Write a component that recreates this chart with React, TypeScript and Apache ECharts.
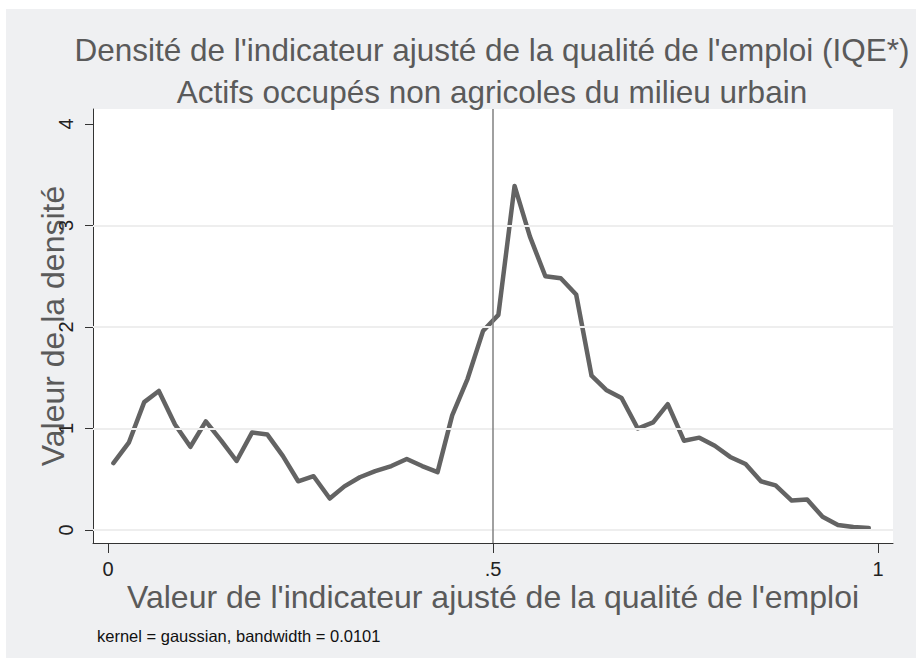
import React, { useEffect, useRef } from "react";
import * as echarts from "echarts";

const titleLines = [
  "Densité de l'indicateur ajusté de la qualité de l'emploi (IQE*)",
  "Actifs occupés non agricoles du milieu urbain",
];
const xTitle = "Valeur de l'indicateur ajusté de la qualité de l'emploi";
const yTitle = "Valeur de la densité";
const note = "kernel = gaussian, bandwidth = 0.0101";

const xTicks = [0, 0.5, 1];
const xTickLabels = ["0", ".5", "1"];
const yTicks = [0, 1, 2, 3, 4];
const yTickLabels = ["0", "1", "2", "3", "4"];
const gridValues = [0, 1, 2, 3];
const refLineX = 0.5;

const xs = [
  0.007, 0.027, 0.047, 0.066, 0.087, 0.107, 0.127, 0.147, 0.167, 0.187,
  0.207, 0.227, 0.247, 0.267, 0.288, 0.307, 0.327, 0.347, 0.368, 0.388,
  0.408, 0.428, 0.447, 0.467, 0.487, 0.507, 0.528, 0.548, 0.568, 0.588,
  0.608, 0.628, 0.647, 0.667, 0.688, 0.708, 0.727, 0.748, 0.768, 0.788,
  0.808, 0.828, 0.848, 0.867, 0.888, 0.908, 0.928, 0.948, 0.968, 0.988,
];
const density = [
  0.66, 0.86, 1.26, 1.37, 1.04, 0.82, 1.07, 0.88, 0.68, 0.96,
  0.94, 0.73, 0.48, 0.53, 0.31, 0.43, 0.52, 0.58, 0.63, 0.7,
  0.63, 0.57, 1.13, 1.49, 1.96, 2.12, 3.39, 2.89, 2.5, 2.48,
  2.32, 1.52, 1.38, 1.3, 1.0, 1.06, 1.24, 0.88, 0.91, 0.83,
  0.72, 0.65, 0.48, 0.44, 0.29, 0.3, 0.13, 0.05, 0.03, 0.02,
];

const FONT = "'Liberation Sans', Arial, Helvetica, sans-serif";

export default function App() {
  const ref = useRef<HTMLDivElement>(null);

  useEffect(() => {
    if (!ref.current) return;
    const chart = echarts.init(ref.current, undefined, { renderer: "svg" });
    const points = xs.map((x, i) => [x, density[i]]);
    chart.setOption({
      animation: false,
      backgroundColor: "transparent",
      textStyle: { fontFamily: FONT },
      title: {
        text: titleLines.join("\n"),
        left: 487,
        top: 24,
        textAlign: "center",
        textStyle: {
          fontFamily: FONT,
          fontSize: 31.5,
          fontWeight: "normal",
          color: "#5a5a5a",
          lineHeight: 42,
        },
      },
      grid: {
        left: 93,
        right: 23,
        top: 109,
        bottom: 118,
        show: true,
        backgroundColor: "#ffffff",
        borderWidth: 0,
      },
      xAxis: {
        type: "value",
        min: -0.0195,
        max: 1.0195,
        name: xTitle,
        nameLocation: "middle",
        nameGap: 38,
        nameMoveOverlap: false,
        nameTextStyle: { fontFamily: FONT, fontSize: 32, color: "#5a5a5a" },
        axisLine: { show: true, onZero: false, lineStyle: { color: "#333", width: 1 } },
        axisTick: {
          show: true,
          customValues: xTicks,
          length: 10,
          lineStyle: { color: "#333", width: 1 },
        },
        axisLabel: {
          customValues: xTicks,
          formatter: (v: number) => xTickLabels[xTicks.indexOf(v)] ?? "",
          fontFamily: FONT,
          fontSize: 20,
          color: "#222",
          margin: 16,
        },
        splitLine: { show: false },
      },
      yAxis: {
        type: "value",
        min: -0.128,
        max: 4.148,
        name: yTitle,
        nameLocation: "middle",
        nameGap: 24,
        nameMoveOverlap: false,
        nameRotate: 90,
        nameTextStyle: { fontFamily: FONT, fontSize: 32, color: "#5a5a5a" },
        axisLine: { show: true, onZero: false, lineStyle: { color: "#333", width: 1 } },
        axisTick: {
          show: true,
          customValues: yTicks,
          length: 8,
          lineStyle: { color: "#333", width: 1 },
        },
        axisLabel: {
          customValues: yTicks,
          formatter: (v: number) => yTickLabels[yTicks.indexOf(v)] ?? "",
          rotate: 90,
          fontFamily: FONT,
          fontSize: 20,
          color: "#222",
          margin: 17,
        },
        splitLine: { show: false },
      },
      series: [
        {
          type: "line",
          z: 1,
          data: [],
          silent: true,
          markLine: {
            silent: true,
            symbol: "none",
            label: { show: false },
            data: gridValues.map((v) => ({
              yAxis: v,
              lineStyle: { color: "#eeeeee", width: 2, type: "solid" },
            })),
          },
        },
        {
          type: "line",
          z: 3,
          data: points,
          showSymbol: false,
          symbol: "none",
          lineStyle: { color: "#636363", width: 4.5, cap: "round", join: "round" },
          markLine: {
            silent: true,
            symbol: "none",
            label: { show: false },
            data: [
              {
                xAxis: refLineX,
                lineStyle: { color: "#808080", width: 1.5, type: "solid" },
              },
            ],
          },
        },
      ],
      graphic: [
        {
          type: "text",
          left: 97,
          top: 627,
          style: {
            text: note,
            fontFamily: FONT,
            fontSize: 16.5,
            fill: "#111",
          },
        },
      ],
    });
    return () => chart.dispose();
  }, []);

  return (
    <div
      style={{
        position: "fixed",
        left: 0,
        top: 0,
        width: 916,
        height: 661,
        background: "#ffffff",
      }}
    >
      <div
        style={{
          position: "absolute",
          left: 6,
          top: 9,
          right: 0,
          bottom: 3,
          background: "#eff0f2",
        }}
      />
      <div
        ref={ref}
        style={{ position: "absolute", left: 0, top: 0, width: 916, height: 661 }}
      />
    </div>
  );
}
